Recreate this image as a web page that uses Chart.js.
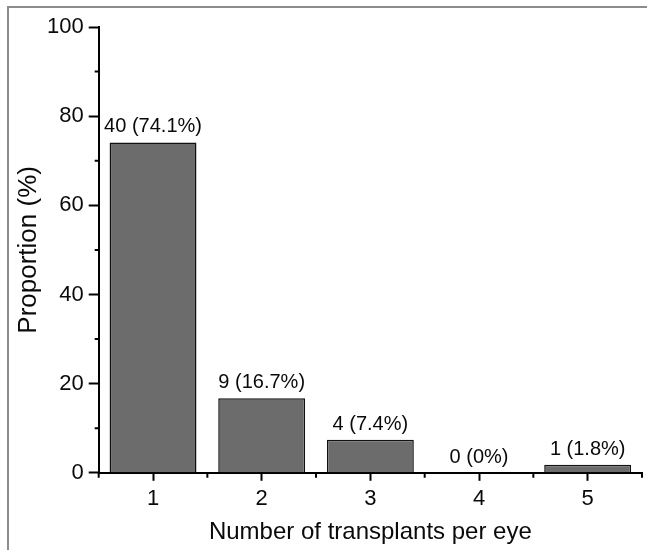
<!DOCTYPE html>
<html>
<head>
<meta charset="utf-8">
<script src="https://cdn.jsdelivr.net/npm/chart.js@4"></script>
<style>
  html, body { margin: 0; padding: 0; background: #fff; overflow: hidden; }
  .wrap { position: relative; width: 647px; height: 550px; }
  .frame { position: absolute; left: 7px; top: 6px; width: 660px; height: 560px;
           border-top: 2px solid #8c8c8c; border-left: 2px solid #8c8c8c; }
  canvas { position: absolute; left: 0; top: 0; }
</style>
</head>
<body>
<div class="wrap">
  <div class="frame"></div>
  <canvas id="transplantChart" width="647" height="550"></canvas>
</div>
<script>
// values
var categories = ['1', '2', '3', '4', '5'];
var proportions = [74.1, 16.7, 7.4, 0, 1.8];
var counts = [40, 9, 4, 0, 1];
var majorTicksY = [0, 20, 40, 60, 80, 100];
var minorTicksY = [10, 30, 50, 70, 90];

var fontFamily = '"Liberation Sans", Arial, Helvetica, sans-serif';

// small ticks (y minor + x category boundaries) and bar value labels
var extrasPlugin = {
    id: 'extras',
    afterDatasetsDraw: function(chart) {
        var ctx = chart.ctx;
        var x = chart.scales.x;
        var y = chart.scales.y;
        var area = chart.chartArea;
        ctx.save();
        ctx.strokeStyle = '#000';
        ctx.lineWidth = 2;
        ctx.beginPath();
        minorTicksY.forEach(function(v) {
            var py = y.getPixelForValue(v);
            ctx.moveTo(area.left - 4, py);
            ctx.lineTo(area.left, py);
        });
        for (var i = 0; i <= categories.length; i++) {
            var px;
            if (i === 0) px = area.left;
            else if (i === categories.length) px = area.right;
            else px = (x.getPixelForTick(i - 1) + x.getPixelForTick(i)) / 2;
            ctx.moveTo(px, area.bottom);
            ctx.lineTo(px, area.bottom + 5);
        }
        ctx.stroke();

        ctx.fillStyle = '#0a0a0a';
        ctx.font = '20px ' + fontFamily;
        ctx.textAlign = 'center';
        ctx.textBaseline = 'alphabetic';
        var meta = chart.getDatasetMeta(0);
        meta.data.forEach(function(bar, i) {
            ctx.fillText(counts[i] + ' (' + proportions[i] + '%)', bar.x, bar.y - 10);
        });
        ctx.restore();
    }
};

document.addEventListener('DOMContentLoaded', function() {
    var ctx = document.getElementById('transplantChart').getContext('2d');
    new Chart(ctx, {
        type: 'bar',
        data: {
            labels: categories,
            datasets: [{
                label: 'Proportion',
                data: proportions,
                backgroundColor: '#6c6c6c',
                borderColor: '#111',
                borderWidth: 1.5,
                barPercentage: 0.8,
                categoryPercentage: 1.0
            }]
        },
        options: {
            responsive: false,
            animation: false,
            layout: { padding: { left: 16, right: 5, top: 27, bottom: 3 } },
            plugins: {
                legend: { display: false },
                tooltip: { enabled: false }
            },
            scales: {
                x: {
                    offset: true,
                    grid: {
                        offset: false,
                        drawOnChartArea: false,
                        drawTicks: true,
                        tickLength: 8,
                        tickColor: '#000',
                        tickWidth: 2
                    },
                    border: { display: true, color: '#000', width: 2 },
                    ticks: {
                        color: '#0a0a0a',
                        font: { family: fontFamily, size: 22 },
                        padding: 5
                    },
                    title: {
                        display: true,
                        text: 'Number of transplants per eye',
                        color: '#0a0a0a',
                        font: { family: fontFamily, size: 24 },
                        padding: { top: 1, bottom: 0 }
                    }
                },
                y: {
                    min: 0,
                    max: 100,
                    afterBuildTicks: function(scale) {
                        scale.ticks = majorTicksY.map(function(v) { return { value: v }; });
                    },
                    grid: {
                        drawOnChartArea: false,
                        drawTicks: true,
                        tickLength: 10,
                        tickColor: '#000',
                        tickWidth: 2
                    },
                    border: { display: true, color: '#000', width: 2 },
                    ticks: {
                        color: '#0a0a0a',
                        font: { family: fontFamily, size: 22 },
                        padding: 5
                    },
                    title: {
                        display: true,
                        text: 'Proportion (%)',
                        color: '#0a0a0a',
                        font: { family: fontFamily, size: 26, lineHeight: 1 },
                        padding: { top: 0, bottom: 0 }
                    }
                }
            }
        },
        plugins: [extrasPlugin]
    });
});
</script>
</body>
</html>
